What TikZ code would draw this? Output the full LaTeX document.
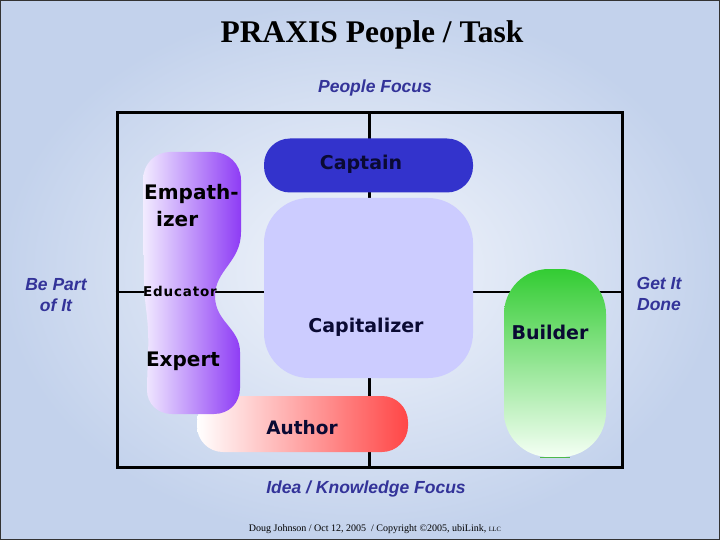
\documentclass[tikz,border=0pt]{standalone}
\usepackage{fontspec}
\usetikzlibrary{calc}
\setmainfont{Liberation Serif}
\newfontfamily\dvs{DejaVu Sans}
\newfontfamily\dvssp{DejaVu Sans}[LetterSpace=6]
\newfontfamily\arialf{Liberation Sans}
\definecolor{bginner}{HTML}{F3F6FC}
\definecolor{bgouter}{HTML}{C3D2EC}
\definecolor{captblue}{HTML}{3333CC}
\definecolor{capfill}{HTML}{CCCCFF}
\definecolor{focusblue}{HTML}{333399}
\definecolor{purpL}{HTML}{F2ECFF}
\definecolor{purpM}{HTML}{D2BEFF}
\definecolor{purpR}{HTML}{8E3CF5}
\definecolor{redR}{HTML}{FF4646}
\definecolor{greenT}{HTML}{33CC33}
\definecolor{greenB}{HTML}{F4FFF4}
\definecolor{navytext}{HTML}{0A0A33}
\tikzset{
  boxlbl/.style={font=\dvs\bfseries\fontsize{19}{22}\selectfont, text=navytext, inner sep=0pt},
  sidelbl/.style={font=\arialf\bfseries\itshape\fontsize{17.5}{21}\selectfont, text=focusblue, align=center, inner sep=0pt},
  roundbox/.style={draw=none, inner sep=0pt},
  axisline/.style={line width=2.6pt, black},
}
\begin{document}
\begin{tikzpicture}[x=1pt,y=-1pt]
\useasboundingbox (0,0) rectangle (720,540);
% background
\shade[inner color=bginner, outer color=bgouter] (0,0) rectangle (720,540);
\draw[line width=1pt, black!80] (0.5,0.5) rectangle (719.5,539.5);

% title
\node[font=\bfseries\fontsize{31.5}{36}\selectfont, inner sep=0pt] (title) at (372,35) {PRAXIS People / Task};
\node[sidelbl] (peoplefocus) at (375,88) {People Focus};
\node[sidelbl] (ideafocus) at (366,489) {Idea / Knowledge Focus};
\node[sidelbl] (bepart) at (56,295) {Be Part\\of It};
\node[sidelbl] (getit) at (659,294) {Get It\\Done};

% frame and axes
\node[draw, line width=3pt, minimum width=505pt, minimum height=354pt, inner sep=0pt] (frame) at (369.5,290) {};
\draw[axisline] (frame.north) -- (frame.south);
\draw[axisline] ($(frame.west)+(0,2)$) coordinate (hw) -- ($(frame.east)+(0,2)$) coordinate (he);

% Captain
\node[roundbox, fill=captblue, minimum width=209pt, minimum height=54pt, rounded corners=26pt] (captain) at (368.5,165.5) {};
\node[boxlbl] (captainlbl) at (361,164) {Captain};

% Capitalizer
\node[roundbox, fill=capfill, minimum width=209pt, minimum height=180pt, rounded corners=45pt] (capitalizer) at (368.5,288) {};
\node[boxlbl] (capitalizerlbl) at (366,327) {Capitalizer};

% Author
\node[roundbox, left color=white, right color=redR, minimum width=211pt, minimum height=56pt, rounded corners=26pt] (author) at (302.5,424) {};
\node[boxlbl, font=\dvs\bfseries\fontsize{18.5}{22}\selectfont] (authorlbl) at (302,428) {Author};

% Builder
\node[roundbox, top color=greenT, bottom color=greenB, minimum width=102pt, minimum height=188pt, rounded corners=45pt] (builder) at (555,363) {};
\node[boxlbl] (builderlbl) at (550,332) {Builder};
\draw[line width=1pt, green!60!black!70] ($(builder.south)+(-15,0)$) -- ($(builder.south)+(15,0)$);

% Empathizer / Educator / Expert blob
\shade[left color=purpL, middle color=purpM, right color=purpR]
  (170,152) -- (213,152)
  .. controls (228,152) and (241,164) .. (241,180)
  -- (241,232)
  .. controls (241,262) and (215,270) .. (215,296)
  .. controls (215,322) and (240,328) .. (240,352)
  -- (240,388)
  .. controls (240,403) and (229,414) .. (214,414)
  -- (172,414)
  .. controls (158,414) and (147,404) .. (147,390)
  .. controls (147,372) and (149,350) .. (148,330)
  .. controls (147,310) and (144,300) .. (144,280)
  -- (143,180)
  .. controls (143,164) and (155,152) .. (170,152) -- cycle;
\node[font=\dvs\bfseries\fontsize{20}{27}\selectfont, align=left, anchor=north west, inner sep=0pt, text=black] (empath) at (144,184) {Empath-\\\hspace{12pt}izer};
\node[font=\dvssp\bfseries\fontsize{13.5}{16}\selectfont, inner sep=0pt, text=black] (educator) at (180,291) {Educator};
\node[font=\dvs\bfseries\fontsize{20}{24}\selectfont, inner sep=0pt, text=black] (expert) at (183,361) {Expert};

% footer
\node[font=\fontsize{10}{12}\selectfont, inner sep=0pt] (footer) at (375,529) {Doug Johnson / Oct 12, 2005 \ / Copyright \textcopyright 2005, ubiLink, {\fontsize{6.5}{8}\selectfont LLC}};
\end{tikzpicture}
\end{document}
